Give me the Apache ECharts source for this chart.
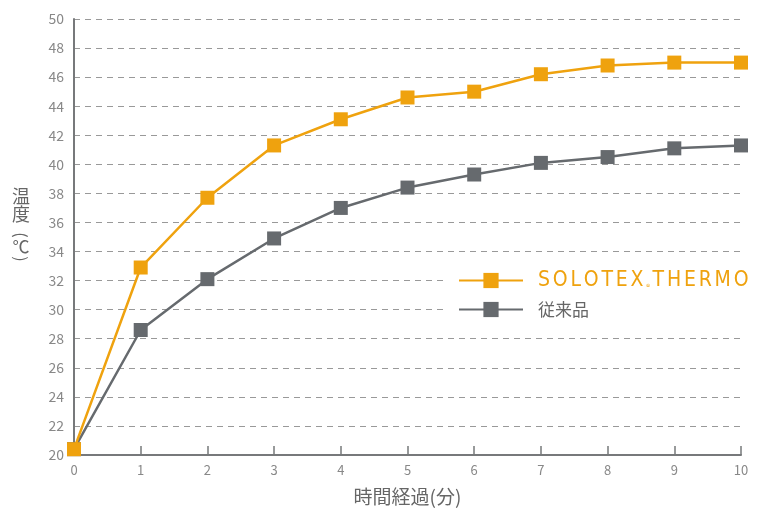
<!DOCTYPE html>
<html><head><meta charset="utf-8">
<script src="https://cdn.jsdelivr.net/npm/echarts@6/dist/echarts.min.js"></script>
<style>html,body{margin:0;padding:0;background:#fff}#c{width:762px;height:511px}</style>
</head><body><div id="c"></div>
<script>
const minutes = [0,1,2,3,4,5,6,7,8,9,10];
const solotex = [20.4,32.9,37.7,41.3,43.1,44.6,45.0,46.2,46.8,47.0,47.0];
const conventional = [20.4,28.6,32.1,34.9,37.0,38.4,39.3,40.1,40.5,41.1,41.3];
const seriesNames = ['SOLOTEX®THERMO','従来品'];
const xAxisName = '時間経過(分)';
const yAxisChars = ['温','度','(','℃',')'];

const ORANGE = '#EFA20E';
const GRAY = '#666A6E';
const FONT = '"Noto Sans CJK JP", "Noto Sans", sans-serif';
const NARROW = '"Liberation Sans Narrow", "DejaVu Sans Condensed", "Noto Sans", sans-serif';

function spaced(word){
  return word.split('').map(ch => '{a|' + ch + '}').join('');
}

const yCenters = [196, 214, 235, 247, 259];
const yRot = [0, 0, -Math.PI/2, 0, -Math.PI/2];
const ySize = [18, 18, 16, 17, 16];
const chart = echarts.init(document.getElementById('c'), null, {renderer:'canvas'});
chart.setOption({
  animation:false,
  textStyle:{fontFamily:FONT},
  grid:{left:74,right:21,top:19,bottom:54},
  graphic: yAxisChars.map((ch,i)=>({
    type:'text', x:21, y:yCenters[i], rotation:yRot[i], silent:true,
    style:{text:ch, fill:'#666', font: ySize[i] + 'px "Noto Sans CJK JP", sans-serif', align:'center', verticalAlign:'middle'}
  })),
  xAxis:{
    type:'value',min:0,max:10,interval:1,
    name:xAxisName,nameLocation:'middle',nameGap:32,
    nameTextStyle:{color:'#666',fontSize:19,fontFamily:FONT},
    axisLine:{lineStyle:{color:'#77797b',width:2}},
    axisTick:{show:true,inside:true,length:9,lineStyle:{color:'#77797b',width:1.5}},
    axisLabel:{color:'#888',fontSize:13,margin:9,fontFamily:FONT},
    splitLine:{show:false}
  },
  yAxis:{
    type:'value',min:20,max:50,interval:2,
    axisLine:{show:true,lineStyle:{color:'#77797b',width:2}},
    axisTick:{show:false},
    axisLabel:{color:'#888',fontSize:14,margin:10,fontFamily:FONT},
    splitLine:{show:true,lineStyle:{color:'#999',type:[6,5],width:1}}
  },
  legend:{
    orient:'vertical',left:446,top:264,
    backgroundColor:'#fff',padding:[6,6,6,12],
    itemWidth:64,itemHeight:19,itemGap:10,
    data:[seriesNames[0],seriesNames[1]],
    formatter:function(n){
      if(n===seriesNames[0]) return spaced('SOLOTEX') + '{r|®}' + spaced('THERMO');
      return '{b|'+n+'}';
    },
    textStyle:{
      padding:[0,0,0,10],
      rich:{
        a:{color:ORANGE,fontSize:21,fontFamily:NARROW,fontWeight:'normal',lineHeight:20,padding:[0,2.8,0,0]},
        r:{color:ORANGE,fontSize:8,verticalAlign:'bottom',lineHeight:20,padding:[6,2.5,0,0]},
        b:{color:'#666',fontSize:17,lineHeight:20,fontFamily:FONT}
      }
    }
  },
  series:[
    {name:seriesNames[1],type:'line',data:minutes.map((m,i)=>[m,conventional[i]]),
     symbol:'rect',symbolSize:14,z:2,
     lineStyle:{color:GRAY,width:2.5},itemStyle:{color:GRAY}},
    {name:seriesNames[0],type:'line',data:minutes.map((m,i)=>[m,solotex[i]]),
     symbol:'rect',symbolSize:14,z:3,
     lineStyle:{color:ORANGE,width:2.5},itemStyle:{color:ORANGE}}
  ]
});
</script></body></html>
